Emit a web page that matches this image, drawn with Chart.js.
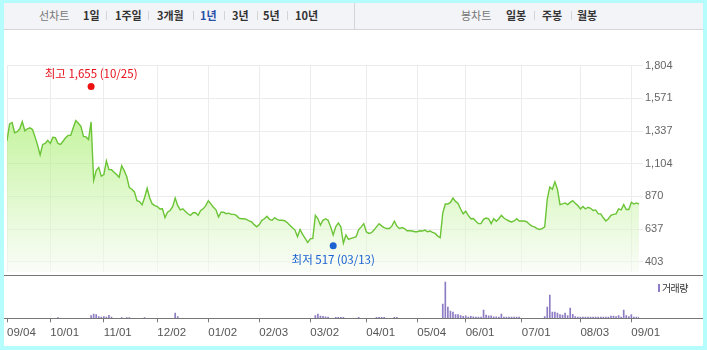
<!DOCTYPE html>
<html lang="ko">
<head>
<meta charset="utf-8">
<script src="https://cdn.jsdelivr.net/npm/chart.js@4.4.1/dist/chart.umd.min.js"></script>
<style>
body{margin:0;width:707px;height:350px;background:#b5fdfd;position:relative;overflow:hidden;font-family:"Noto Sans CJK KR",sans-serif}
#box{position:absolute;left:4px;top:3px;width:699px;height:343px;background:#fff}
#head{position:absolute;left:4px;top:3px;width:699px;height:26px;background:#f3f4f7;border-bottom:1px solid #d4d5d8}
#headSep{position:absolute;left:354px;top:3px;width:1px;height:26px;background:#d4d5d8}
.t{position:absolute;top:3px;line-height:24px;font-size:11px;font-weight:bold;color:#333;white-space:nowrap}
.g{color:#777;font-weight:normal}
.on{color:#2850a8}
.sep{position:absolute;top:11px;width:1px;height:9px;background:#d5d5d5}
.hl{position:absolute;left:4px;width:699px;height:1px;background:#777}
canvas{position:absolute;left:0}
</style>
</head>
<body>
<div id="box"></div>
<div id="head"></div>
<div id="headSep"></div>

<span class="t g" style="left:39px">선차트</span>
<span class="t" style="left:83px">1일</span>
<span class="sep" style="left:106px"></span>
<span class="t" style="left:115px">1주일</span>
<span class="sep" style="left:148px"></span>
<span class="t" style="left:157px">3개월</span>
<span class="sep" style="left:193px"></span>
<span class="t on" style="left:200px">1년</span>
<span class="sep" style="left:224px"></span>
<span class="t" style="left:232px">3년</span>
<span class="sep" style="left:257px"></span>
<span class="t" style="left:263px">5년</span>
<span class="sep" style="left:287px"></span>
<span class="t" style="left:295px">10년</span>

<span class="t g" style="left:461px">봉차트</span>
<span class="t" style="left:506px">일봉</span>
<span class="sep" style="left:534px"></span>
<span class="t" style="left:542px">주봉</span>
<span class="sep" style="left:571px"></span>
<span class="t" style="left:577px">월봉</span>

<canvas id="main" width="707" height="246" style="top:30px"></canvas>
<canvas id="vol" width="707" height="74" style="top:276px"></canvas>

<div class="hl" style="top:275px"></div>
<div class="hl" style="top:318px"></div>

<div style="position:absolute;left:658px;top:284px;width:2px;height:8px;background:#8d7cc3"></div>
<div style="position:absolute;left:662px;top:281px;font-size:10px;line-height:14px;color:#333;letter-spacing:-0.6px">거래량</div>

<script>
// daily closes, 2019-09-04 .. 2020-09-04 (one per trading day)
const closes = [
    1267,1388,1398,1325,1332,1353,1405,1339,1353,1360,
    1349,1295,1236,1166,1241,1248,1271,1248,1292,1290,
    1248,1241,1264,1290,1306,1306,1360,1412,1393,1370,
    1299,1295,1276,1402,984,1054,1077,1014,1026,1124,
    1061,1061,1042,1026,1007,1089,1054,1010,933,921,
    902,839,832,809,862,928,858,816,804,797,
    780,781,718,757,769,797,858,804,774,781,
    762,746,734,753,753,734,769,781,804,839,
    816,792,774,722,757,757,746,750,741,741,
    734,715,710,710,706,694,687,668,652,668,
    699,710,727,706,699,717,706,699,699,696,
    682,664,645,629,582,633,598,570,540,566,
    570,734,710,664,699,710,699,652,594,652,
    680,652,535,594,563,570,575,582,633,652,
    675,617,605,610,629,652,675,659,647,640,
    640,657,692,657,640,647,640,624,624,622,
    617,617,624,622,629,617,622,612,605,586,
    575,750,815,815,827,858,834,820,780,745,
    764,734,710,712,692,675,675,706,715,710,
    675,710,692,710,734,715,703,694,687,694,
    710,694,694,694,687,671,657,652,640,633,
    640,652,851,937,921,974,921,811,816,823,
    811,827,839,820,804,780,797,780,792,785,
    769,773,745,745,717,694,710,734,741,745,
    780,773,811,776,776,827,815,823,815
];

// daily volume (relative units)
const volumes = [
    0,0,0,0,0,0,0,0,0,0,
    0,0,0,0,0,0,0,0,0,0,
    7,0,0,0,0,0,0,0,0,0,
    0,0,0,27,43,37,17,13,17,13,
    30,13,0,0,0,8,0,8,8,0,
    0,0,0,0,8,0,0,0,0,0,
    0,0,0,0,0,0,53,17,0,0,
    0,0,0,0,0,0,0,0,0,0,
    0,0,0,0,0,0,0,0,0,0,
    0,0,0,0,0,0,0,0,0,0,
    0,0,0,0,0,0,0,0,0,0,
    0,0,0,0,0,0,0,0,0,0,
    0,27,43,23,20,15,13,0,0,10,
    10,10,10,0,0,0,0,0,10,0,
    0,0,0,0,0,10,10,10,10,0,
    0,0,10,10,0,0,0,0,0,0,
    0,0,0,0,0,0,0,0,0,0,
    0,143,363,113,73,63,37,37,27,20,
    25,13,20,15,13,13,13,83,33,25,
    25,15,15,13,43,13,13,13,13,13,
    13,13,0,0,0,0,0,0,0,0,
    0,17,113,233,63,63,53,37,33,53,
    27,103,40,17,13,13,13,13,13,13,
    13,13,13,13,13,13,13,23,23,17,
    27,13,83,27,17,37,13,13,13
];

const xTickIdx = [0,17,38,59,79,99,119,141,161,180,202,225,245];
const xTickLabels = ["09/04","10/01","11/01","12/02","01/02","02/03","03/02","04/01","05/04","06/01","07/01","08/03","09/01"];

const yTickValues = [403,636.5,870,1103.5,1337,1570.5,1804];
const yTickLabels = ["403","637","870","1,104","1,337","1,571","1,804"];
const yMin = 329.4;
const yMax = 1804;
const volMax = 383;

const highIdx = 33;
const highValue = 1655;
const highLabel = "최고 1,655 (10/25)";
const lowIdx = 128;
const lowValue = 517;
const lowLabel = "최저 517 (03/13)";

const lastIdx = closes.length - 1;

const markerText = {
    id: "markerText",
    afterDatasetsDraw(chart) {
        const ctx = chart.ctx;
        const x = chart.scales.x;
        const y = chart.scales.y;
        ctx.save();
        ctx.font = '11.5px "Noto Sans CJK KR"';
        ctx.textAlign = "center";
        ctx.textBaseline = "middle";
        ctx.fillStyle = "#e8101a";
        ctx.fillText(highLabel, x.getPixelForValue(highIdx), y.getPixelForValue(highValue) - 13);
        ctx.fillStyle = "#1a62d2";
        ctx.fillText(lowLabel, x.getPixelForValue(lowIdx), y.getPixelForValue(lowValue) + 14);
        ctx.restore();
    }
};

new Chart(document.getElementById("main"), {
    type: "line",
    data: {
        datasets: [
            {
                data: closes.map((v, i) => ({x: i, y: v})),
                borderColor: "#6ac435",
                borderWidth: 1.4,
                pointRadius: 0,
                tension: 0,
                order: 1,
                fill: "start",
                backgroundColor: (c) => {
                    const area = c.chart.chartArea;
                    if (!area) return "rgba(0,0,0,0)";
                    const g = c.chart.ctx.createLinearGradient(0, area.top, 0, area.bottom);
                    g.addColorStop(0, "rgba(122,231,35,0.58)");
                    g.addColorStop(1, "rgba(246,251,242,0.55)");
                    return g;
                }
            },
            {
                type: "scatter",
                data: [{x: highIdx, y: highValue}],
                pointRadius: 3.5,
                backgroundColor: "#ee1111",
                borderWidth: 0,
                order: 0
            },
            {
                type: "scatter",
                data: [{x: lowIdx, y: lowValue}],
                pointRadius: 3.5,
                backgroundColor: "#1c62d0",
                borderWidth: 0,
                order: 0
            }
        ]
    },
    options: {
        responsive: false,
        animation: false,
        devicePixelRatio: 1,
        layout: {padding: {left: 7, top: 35.7, right: 0, bottom: 0}},
        plugins: {legend: {display: false}, tooltip: {enabled: false}},
        scales: {
            x: {
                type: "linear",
                min: 0,
                max: lastIdx,
                grid: {color: "#ececec", drawTicks: false},
                border: {display: false},
                ticks: {display: false},
                afterBuildTicks: (s) => { s.ticks = xTickIdx.map(v => ({value: v})); },
                afterFit: (s) => { s.height = 0; s.paddingLeft = 0; s.paddingRight = 0; }
            },
            y: {
                position: "right",
                min: yMin,
                max: yMax,
                grid: {color: "#ececec", tickLength: 4},
                border: {display: false},
                ticks: {
                    color: "#666",
                    font: {family: "Liberation Sans", size: 11},
                    padding: 2,
                    callback: (v, i) => yTickLabels[i]
                },
                afterBuildTicks: (s) => { s.ticks = yTickValues.map(v => ({value: v})); },
                afterFit: (s) => { s.width = 68; s.paddingTop = 0; s.paddingBottom = 0; }
            }
        }
    },
    plugins: [markerText]
});

new Chart(document.getElementById("vol"), {
    type: "bar",
    data: {
        datasets: [
            {
                data: volumes.map((v, i) => ({x: i, y: v})),
                backgroundColor: "#8d7cc3",
                barThickness: 1,
                borderWidth: 0
            }
        ]
    },
    options: {
        responsive: false,
        animation: false,
        devicePixelRatio: 1,
        layout: {padding: {left: 7, top: 4, right: 0, bottom: 0}},
        plugins: {legend: {display: false}, tooltip: {enabled: false}},
        scales: {
            x: {
                type: "linear",
                min: 0,
                max: lastIdx,
                offset: false,
                grid: {drawOnChartArea: false, drawTicks: true, tickLength: 4, color: "#777", offset: false},
                border: {display: false},
                ticks: {
                    align: "start",
                    color: "#555",
                    font: {family: "Liberation Sans", size: 11.5},
                    padding: 4,
                    maxRotation: 0,
                    autoSkip: false,
                    callback: (v, i) => xTickLabels[i]
                },
                afterBuildTicks: (s) => { s.ticks = xTickIdx.map(v => ({value: v})); },
                afterFit: (s) => { s.height = 31.7; s.paddingLeft = 0; s.paddingRight = 0; }
            },
            y: {
                position: "right",
                min: 0,
                max: volMax,
                grid: {display: false},
                border: {display: false},
                ticks: {display: false},
                afterFit: (s) => { s.width = 68; s.paddingTop = 0; s.paddingBottom = 0; }
            }
        }
    }
});
</script>
</body>
</html>
